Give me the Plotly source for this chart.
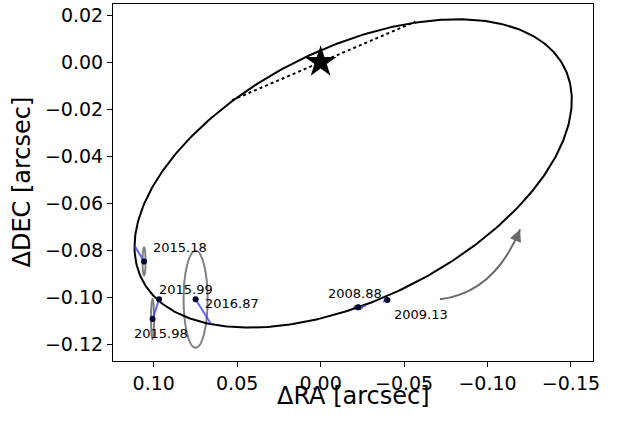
import numpy as np
import plotly.graph_objects as go

# ---- data ----
epochs = ["2015.18", "2015.98", "2015.99", "2016.87", "2008.88", "2009.13"]
obs_ra = [0.1058, 0.1007, 0.0968, 0.0749, -0.0225, -0.0399]
obs_dec = [-0.0847, -0.1092, -0.1008, -0.1008, -0.1042, -0.1011]
pred_ra = [0.1113, 0.0968, 0.0968, 0.0659, -0.0270, -0.0374]
pred_dec = [-0.0782, -0.1008, -0.1008, -0.1111, -0.1035, -0.1019]
err_ra = [0.0009, 0.0009, 0.0, 0.0072, 0.0024, 0.0015]
err_dec = [0.0060, 0.0086, 0.0, 0.0206, 0.0008, 0.0006]

# projected orbit: x = cx + A cos t, y = cy + B cos t + C sin t
orbit_center = (-0.0195, -0.0473)
orbit_A, orbit_B, orbit_C = 0.131, -0.0312, 0.0576
node_ra = [0.0531, -0.0567]
node_dec = [-0.0162, 0.0172]
peri_ra = [0.0, 0.0005]
peri_dec = [0.0, 0.0050]

label_ra = [0.1017, 0.1133, 0.0981, 0.0706, -0.0032, -0.0426]
label_dec = [-0.0787, -0.1154, -0.0967, -0.1027, -0.0985, -0.1072]

xtick_vals = [0.10, 0.05, 0.00, -0.05, -0.10, -0.15]
xtick_text = ["0.10", "0.05", "0.00", "\u22120.05", "\u22120.10", "\u22120.15"]
ytick_vals = [0.02, 0.00, -0.02, -0.04, -0.06, -0.08, -0.10, -0.12]
ytick_text = ["0.02", "0.00", "\u22120.02", "\u22120.04", "\u22120.06", "\u22120.08", "\u22120.10", "\u22120.12"]

arrow_start = (-0.0715, -0.1008)
arrow_ctrl = (-0.1040, -0.0980)
arrow_tip = (-0.1195, -0.0711)
arrow_back = (-0.1172, -0.0750)

FONT = "DejaVu Sans"

t = np.linspace(0, 2 * np.pi, 400)
orb_x = orbit_center[0] + orbit_A * np.cos(t)
orb_y = orbit_center[1] + orbit_B * np.cos(t) + orbit_C * np.sin(t)

fig = go.Figure()

shapes = []
for i in range(len(epochs)):
    if err_ra[i] > 0:
        shapes.append(dict(type="circle", xref="x", yref="y",
                           x0=obs_ra[i] - err_ra[i], x1=obs_ra[i] + err_ra[i],
                           y0=obs_dec[i] - err_dec[i], y1=obs_dec[i] + err_dec[i],
                           line=dict(color="gray", width=2), layer="below"))
shapes.append(dict(type="path", xref="x", yref="y",
                   path=f"M {arrow_start[0]},{arrow_start[1]} Q {arrow_ctrl[0]},{arrow_ctrl[1]} {arrow_tip[0]},{arrow_tip[1]}",
                   line=dict(color="dimgray", width=2)))

fig.add_trace(go.Scatter(x=orb_x, y=orb_y, mode="lines",
                         line=dict(color="black", width=2), hoverinfo="skip"))
fig.add_trace(go.Scatter(x=node_ra, y=node_dec, mode="lines",
                         line=dict(color="black", width=2, dash="dot")))
fig.add_trace(go.Scatter(x=peri_ra, y=peri_dec, mode="lines",
                         line=dict(color="black", width=3)))

for i in range(len(epochs)):
    fig.add_trace(go.Scatter(x=[obs_ra[i], pred_ra[i]], y=[obs_dec[i], pred_dec[i]],
                             mode="lines", line=dict(color="rgba(60,60,255,0.8)", width=2)))

fig.add_trace(go.Scatter(x=obs_ra, y=obs_dec, mode="markers",
                         marker=dict(color="#000033", size=6)))
fig.add_trace(go.Scatter(x=[0], y=[0], mode="markers",
                         marker=dict(symbol="star", color="black", size=24)))

annotations = []
for i in range(len(epochs)):
    annotations.append(dict(x=label_ra[i], y=label_dec[i], text=epochs[i], showarrow=False,
                            xanchor="left", yanchor="middle",
                            font=dict(family=FONT, size=13, color="black")))
annotations.append(dict(x=arrow_tip[0], y=arrow_tip[1], ax=arrow_back[0], ay=arrow_back[1],
                        xref="x", yref="y", axref="x", ayref="y", text="", showarrow=True,
                        arrowhead=2, arrowsize=1.2, arrowwidth=2, arrowcolor="dimgray"))
# axis titles
annotations.append(dict(x=0.5, y=0, xref="paper", yref="paper", yshift=-35, text="\u0394RA [arcsec]",
                        showarrow=False, xanchor="center", yanchor="middle",
                        font=dict(family=FONT, size=24, color="black")))
annotations.append(dict(x=0, y=0.5, xref="paper", yref="paper", xshift=-92, text="\u0394DEC [arcsec]",
                        showarrow=False, xanchor="center", yanchor="middle", textangle=-90,
                        font=dict(family=FONT, size=24, color="black")))

fig.update_layout(
    width=617, height=423,
    margin=dict(l=113, r=24, t=4, b=62),
    plot_bgcolor="white", paper_bgcolor="white",
    showlegend=False,
    shapes=shapes, annotations=annotations,
    font=dict(family=FONT, color="black"),
)
fig.update_xaxes(range=[0.1244, -0.1632], tickvals=xtick_vals, ticktext=xtick_text,
                 showgrid=False, zeroline=False, showline=True, linecolor="black", linewidth=1,
                 mirror=True, ticks="outside", ticklen=5, tickcolor="black", automargin=False,
                 tickfont=dict(size=19, family=FONT))
fig.update_yaxes(range=[-0.1270, 0.0247], tickvals=ytick_vals, ticktext=ytick_text,
                 showgrid=False, zeroline=False, showline=True, linecolor="black", linewidth=1,
                 mirror=True, ticks="outside", ticklen=5, tickcolor="black", automargin=False,
                 tickfont=dict(size=19, family=FONT))

fig.write_html("out.html", config={"displayModeBar": False},
               post_script="document.body.style.margin='0';")
